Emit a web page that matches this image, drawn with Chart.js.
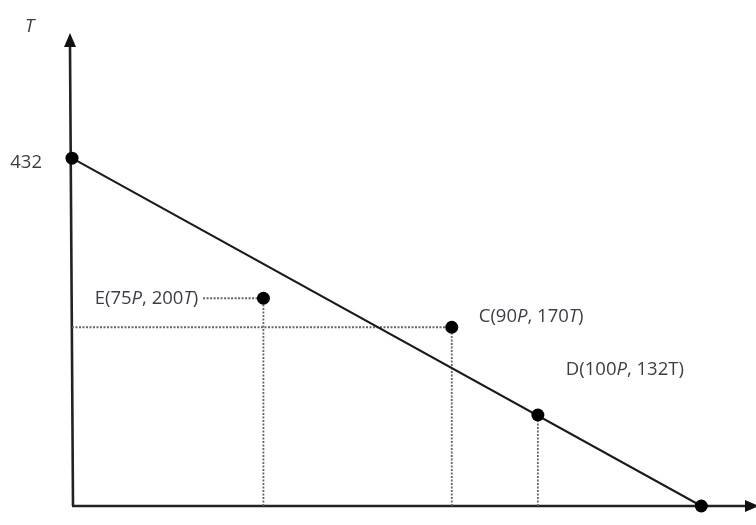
<!DOCTYPE html>
<html>
<head>
<meta charset="utf-8">
<script src="https://cdn.jsdelivr.net/npm/chart.js@4"></script>
<style>
  html, body { margin: 0; padding: 0; background: #fff; }
  #wrap { width: 756px; height: 525px; }
</style>
</head>
<body>
<div id="wrap"><canvas id="c" width="756" height="525"></canvas></div>
<script>
// ---- data (positions as drawn in the picture, in axis units) ----
const frontierX = [0, 144];
const frontierY = [432, 0];
const pointNames = ["E", "C", "D"];
const pointX = [43.8, 86.9, 106.6];
const pointY = [258, 222, 113];
const pointLabels = [
  [["E(75", false], ["P", true], [", 200", false], ["T", true], [")", false]],
  [["C(90", false], ["P", true], [", 170", false], ["T", true], [")", false]],
  [["D(100", false], ["P", true], [", 132T)", false]]
];
const yTickLabels = [432];
const yAxisTitle = "T";
const eConnectorStartX = 30;

const xMax = 154;
const yMax = 570;

const frontier = frontierX.map((x, i) => ({ x: x, y: frontierY[i] }));
const pts = pointX.map((x, i) => ({ x: x, y: pointY[i] }));

const guideSets = [];
pts.forEach(p => guideSets.push([{ x: p.x, y: 0 }, { x: p.x, y: p.y }]));
guideSets.push([{ x: 0, y: pts[1].y }, { x: pts[1].x, y: pts[1].y }]);
guideSets.push([{ x: eConnectorStartX, y: pts[0].y }, { x: pts[0].x, y: pts[0].y }]);

const guideDatasets = guideSets.map(d => ({
  type: 'line',
  data: d,
  borderColor: '#666',
  borderWidth: 1.8,
  borderDash: [2, 1.5],
  pointRadius: 0,
  fill: false,
  order: 3
}));

const FONT = '18.5px "Open Sans", "Liberation Sans", sans-serif';
const FONT_I = 'italic 18.5px "Open Sans", "Liberation Sans", sans-serif';
const TEXT_COLOR = '#3d3d4a';

function drawParts(ctx, parts, x, y, align) {
  let total = 0;
  parts.forEach(([t, it]) => { ctx.font = it ? FONT_I : FONT; total += ctx.measureText(t).width; });
  let cx = align === 'right' ? x - total : x;
  ctx.textBaseline = 'middle';
  ctx.textAlign = 'left';
  parts.forEach(([t, it]) => {
    ctx.font = it ? FONT_I : FONT;
    ctx.fillText(t, cx, y);
    cx += ctx.measureText(t).width;
  });
}

const decor = {
  id: 'decor',
  beforeDatasetsDraw(chart) {
    const ctx = chart.ctx;
    const xs = chart.scales.x, ys = chart.scales.y;
    const ox = xs.getPixelForValue(0), oy = ys.getPixelForValue(0);
    const top = chart.chartArea.top, right = chart.chartArea.right;
    ctx.save();
    ctx.strokeStyle = '#222';
    ctx.fillStyle = '#111';
    ctx.lineWidth = 2.6;
    ctx.beginPath();
    ctx.moveTo(ox + 1, oy);
    ctx.lineTo(ox - 2, top);
    ctx.moveTo(ox, oy);
    ctx.lineTo(right, oy);
    ctx.stroke();
    // arrowheads
    ctx.beginPath();
    ctx.moveTo(ox - 8, top);
    ctx.lineTo(ox + 4, top);
    ctx.lineTo(ox - 2, top - 14);
    ctx.closePath();
    ctx.fill();
    ctx.beginPath();
    ctx.moveTo(right, oy - 6);
    ctx.lineTo(right, oy + 6);
    ctx.lineTo(right + 14, oy);
    ctx.closePath();
    ctx.fill();
    ctx.restore();
  },
  afterDatasetsDraw(chart) {
    const ctx = chart.ctx;
    const xs = chart.scales.x, ys = chart.scales.y;
    ctx.save();
    ctx.fillStyle = TEXT_COLOR;
    yTickLabels.forEach(v => {
      drawParts(ctx, [[String(v), false]], xs.getPixelForValue(0) - 30, ys.getPixelForValue(v) + 5, 'right');
    });
    drawParts(ctx, [[yAxisTitle, true]], 25, 27, 'left');
    const e = pts[0], c = pts[1], d = pts[2];
    drawParts(ctx, pointLabels[0], xs.getPixelForValue(eConnectorStartX) - 5, ys.getPixelForValue(e.y), 'right');
    drawParts(ctx, pointLabels[1], xs.getPixelForValue(c.x) + 27, ys.getPixelForValue(c.y) - 10, 'left');
    drawParts(ctx, pointLabels[2], xs.getPixelForValue(d.x) + 28, ys.getPixelForValue(d.y) - 45, 'left');
    ctx.restore();
  }
};

new Chart(document.getElementById('c'), {
  type: 'scatter',
  data: {
    datasets: [
      {
        type: 'line',
        data: frontier,
        borderColor: '#1a1a1a',
        borderWidth: 2,
        pointRadius: 6.5,
        pointBackgroundColor: '#000',
        pointBorderWidth: 0,
        fill: false,
        order: 2
      },
      {
        type: 'scatter',
        data: pts,
        pointRadius: 6.5,
        pointBackgroundColor: '#000',
        pointBorderWidth: 0,
        order: 1
      },
      ...guideDatasets
    ]
  },
  options: {
    responsive: false,
    animation: false,
    devicePixelRatio: 1,
    layout: { padding: { left: 72, right: 11, top: 47, bottom: 19 } },
    plugins: { legend: { display: false }, tooltip: { enabled: false } },
    scales: {
      x: { type: 'linear', min: 0, max: xMax, display: false },
      y: { type: 'linear', min: 0, max: yMax, display: false }
    },
    clip: false
  },
  plugins: [decor]
});
</script>
</body>
</html>
